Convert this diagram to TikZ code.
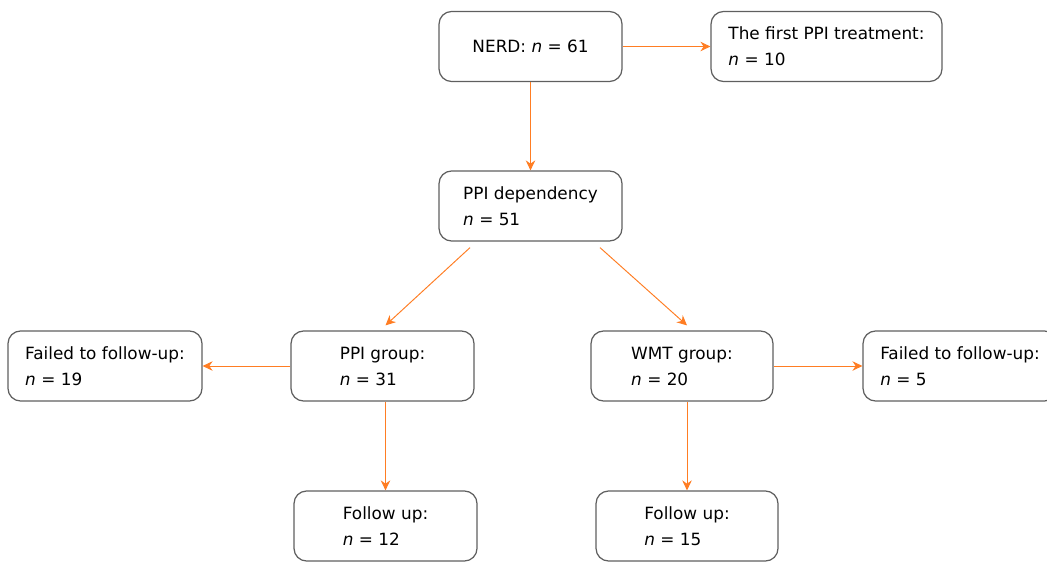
\documentclass[tikz,border=0pt]{standalone}
\usepackage{fontspec}
\setmainfont{DejaVu Sans}
\usetikzlibrary{arrows.meta}
\definecolor{flowline}{RGB}{255,125,35}
\definecolor{boxline}{RGB}{95,95,95}
\begin{document}
\begin{tikzpicture}[x=0.02cm, y=-0.02cm,
    box/.style = {rectangle, draw=boxline, line width=0.7pt,
        rounded corners=0.25cm,
        minimum width=3.66cm, minimum height=1.4cm,
        align=left, inner sep=0pt,
        font=\fontsize{9.6}{14.8}\selectfont},
    flow/.style = {draw=flowline, line width=0.55pt,
        -{Stealth[length=2mm, width=1.9mm]}}]

\useasboundingbox (0,0) rectangle (1047,561);

% Top row
\node[box] (nerd) at (530.5,46.5) {NERD: \textit{n} = 61};
\node[box, minimum width=4.62cm] (first) at (826.5,46.5)
    {The first PPI treatment:\\\textit{n} = 10};

% Dependency
\node[box] (dep) at (530.5,206) {PPI dependency\\\textit{n} = 51};

% Groups
\node[box, minimum width=3.88cm] (failL) at (105,366)
    {Failed to follow-up:\\\textit{n} = 19};
\node[box] (ppi) at (382.5,366) {PPI group:\\\textit{n} = 31};
\node[box, minimum width=3.64cm] (wmt) at (682,366) {WMT group:\\\textit{n} = 20};
\node[box, minimum width=3.88cm] (failR) at (960,366)
    {Failed to follow-up:\\\textit{n} = 5};

% Follow up
\node[box] (fuL) at (385.5,526) {Follow up:\\\textit{n} = 12};
\node[box, minimum width=3.64cm] (fuR) at (687,526) {Follow up:\\\textit{n} = 15};

% Arrows
\draw[flow] (nerd.east) -- (first.west);
\draw[flow] (nerd.south) -- (dep.north);
\draw[flow] ([xshift=-1.21cm, yshift=-0.12cm]dep.south) -- ([yshift=0.1cm]fuL.north |- ppi.north);
\draw[flow] ([xshift=1.39cm, yshift=-0.12cm]dep.south) -- ([yshift=0.1cm]fuR.north |- wmt.north);
\draw[flow] (ppi.west) -- (failL.east);
\draw[flow] (wmt.east) -- (failR.west);
\draw[flow] (fuL.north |- ppi.south) -- (fuL.north);
\draw[flow] (fuR.north |- wmt.south) -- (fuR.north);

\end{tikzpicture}
\end{document}
